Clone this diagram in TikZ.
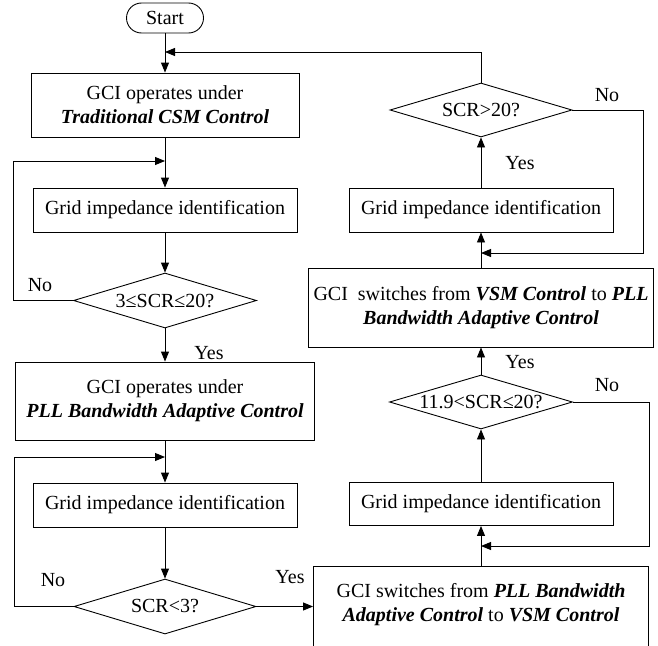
\documentclass[tikz,border=0pt]{standalone}
\usepackage{fontspec}
\setmainfont{Liberation Serif}
\usetikzlibrary{arrows.meta,shapes.geometric}
\begin{document}
\begin{tikzpicture}[x=1pt,y=-1pt,
  every node/.style={font=\fontsize{20}{24}\selectfont, inner sep=0pt},
  boxn/.style={draw, line width=0.9pt, rectangle, align=center},
  dec/.style={draw, line width=0.9pt, diamond, inner sep=0pt},
  arr/.style={line width=0.9pt, -{Triangle[length=10pt,width=8pt]}}]
\useasboundingbox (0,0) rectangle (658,645);
\clip (0,0) rectangle (658,645);
% left column
\node[boxn, rounded corners=15pt, minimum width=77pt, minimum height=30pt] (start) at (165,18) {Start};
\node[boxn, minimum width=268pt, minimum height=64pt] (b1) at (165,105) {GCI operates under\\\textbf{\textit{Traditional CSM Control}}};
\node[boxn, minimum width=264pt, minimum height=44pt] (b2) at (165,210) {Grid impedance identification};
\node[dec, minimum width=183pt, minimum height=55pt] (d1) at (165,300.5) {\makebox[0pt]{3≤SCR≤20?}};
\node[boxn, minimum width=299pt, minimum height=78pt] (b3) at (165,401) {GCI operates under\\\textbf{\textit{PLL Bandwidth Adaptive Control}}};
\node[boxn, minimum width=264pt, minimum height=44pt] (b4) at (165,505) {Grid impedance identification};
\node[dec, minimum width=182pt, minimum height=55pt] (d2) at (165,606.5) {\makebox[0pt]{SCR<3?}};
% right column
\node[draw, line width=0.9pt, minimum width=335pt, minimum height=110pt, anchor=north] (b5) at (481,566) {};
\node[align=center] (b5t) at (481,604.5) {GCI switches from \textbf{\textit{PLL Bandwidth}}\\\textbf{\textit{Adaptive Control}} to \textbf{\textit{VSM Control}}};
\node[boxn, minimum width=264pt, minimum height=43pt] (b6) at (481,504) {Grid impedance identification};
\node[dec, minimum width=183pt, minimum height=54pt] (d3) at (481,402) {\makebox[0pt]{11.9<SCR≤20?}};
\node[boxn, minimum width=345pt, minimum height=79pt] (b7) at (481,307.5) {GCI\ \ switches from \textbf{\textit{VSM Control}} to \textbf{\textit{PLL}}\\\textbf{\textit{Bandwidth Adaptive Control}}};
\node[boxn, minimum width=264pt, minimum height=44pt] (b8) at (481,210) {Grid impedance identification};
\node[dec, minimum width=182pt, minimum height=54pt] (d4) at (481,110) {\makebox[0pt]{SCR>20?}};
% junctions and corners
\coordinate (j1) at (165,161);
\coordinate (j2) at (165,457);
\coordinate (j3) at (481,546);
\coordinate (j4) at (481,253);
\coordinate (j5) at (165,52);
\coordinate (c1) at (13,161);
\coordinate (c2) at (14,457);
\coordinate (c3) at (649,546);
\coordinate (c4) at (643,253);
\coordinate (c5) at (481,52);
% connectors
\draw[arr] (start) -- (b1);
\draw[arr] (b1) -- (b2);
\draw[arr] (b2) -- (d1);
\draw[arr] (d1.west) -| (c1) -- (j1);
\draw[arr] (d1) -- (b3);
\draw[arr] (b3) -- (b4);
\draw[arr] (b4) -- (d2);
\draw[arr] (d2.west) -| (c2) -- (j2);
\draw[arr] (d2.east) -- (d2.east -| b5.west);
\draw[arr] (b5) -- (b6);
\draw[arr] (d3.east) -| (c3) -- (j3);
\draw[arr] (b6) -- (d3);
\draw[arr] (d3) -- (b7);
\draw[arr] (b7) -- (b8);
\draw[arr] (d4.east) -| (c4) -- (j4);
\draw[arr] (b8) -- (d4);
\draw[arr] (d4.north) -- (c5) -- (j5);
% labels
\node (n1) at (40,285) {No};
\node (y1) at (209,353) {Yes};
\node (n2) at (53,580) {No};
\node (y2) at (290,577) {Yes};
\node (y3) at (520,362) {Yes};
\node (n3) at (607,385) {No};
\node (y4) at (520,163) {Yes};
\node (n4) at (607,95) {No};
\end{tikzpicture}
\end{document}
